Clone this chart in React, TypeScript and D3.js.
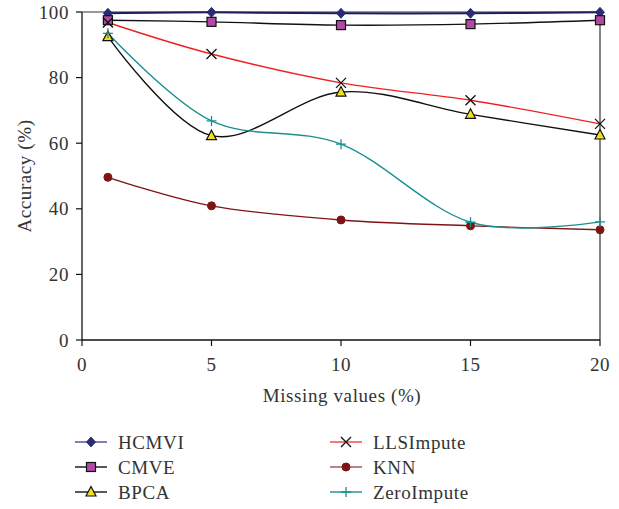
import React from "react";
import * as d3 from "d3";

const xValues = [1, 5, 10, 15, 20];
const hcmvi = [99.6, 99.9, 99.6, 99.6, 99.9];
const cmve = [97.5, 97.0, 96.0, 96.3, 97.5];
const bpca = [92.5, 62.3, 75.6, 68.8, 62.5];
const llsImpute = [96.8, 87.2, 78.4, 73.1, 65.9];
const knn = [49.6, 40.9, 36.6, 34.8, 33.6];
const zeroImpute = [93.5, 66.8, 59.7, 35.9, 36.0];
const xTicks = [0, 5, 10, 15, 20];
const yTicks = [0, 20, 40, 60, 80, 100];

type Marker = "diamond" | "square" | "triangle" | "x" | "circle" | "plus";
interface Series { name: string; values: number[]; line: string; marker: Marker; fill: string; stroke: string; legendLine: string; }

const series: Series[] = [
  { name: "HCMVI", values: hcmvi, line: "#1e1e5e", marker: "diamond", fill: "#2a2a78", stroke: "#1e1e5e", legendLine: "#4a4a96" },
  { name: "CMVE", values: cmve, line: "#111", marker: "square", fill: "#b04aa6", stroke: "#111", legendLine: "#111" },
  { name: "BPCA", values: bpca, line: "#111", marker: "triangle", fill: "#f0e020", stroke: "#111", legendLine: "#111" },
  { name: "LLSImpute", values: llsImpute, line: "#f02020", marker: "x", fill: "none", stroke: "#111", legendLine: "#f04040" },
  { name: "KNN", values: knn, line: "#801414", marker: "circle", fill: "#7d1515", stroke: "#7d1515", legendLine: "#a05050" },
  { name: "ZeroImpute", values: zeroImpute, line: "#1a9090", marker: "plus", fill: "none", stroke: "#1a9090", legendLine: "#1a9090" },
];

const FONT = "'Liberation Serif', 'DejaVu Serif', serif";
const FS = 19;
const LS = 0.6;

function MarkerShape({ type, x, y, fill, stroke }: { type: Marker; x: number; y: number; fill: string; stroke: string }) {
  switch (type) {
    case "diamond":
      return <path d={`M${x},${y - 5}L${x + 4.5},${y}L${x},${y + 5}L${x - 4.5},${y}Z`} fill={fill} stroke={stroke} strokeWidth={0.8} />;
    case "square":
      return <rect x={x - 4.5} y={y - 4.5} width={9} height={9} fill={fill} stroke={stroke} strokeWidth={1.2} />;
    case "triangle":
      return <path d={`M${x},${y - 5.5}L${x + 5},${y + 4}L${x - 5},${y + 4}Z`} fill={fill} stroke={stroke} strokeWidth={1.2} />;
    case "x":
      return <path d={`M${x - 5},${y - 5}L${x + 5},${y + 5}M${x - 5},${y + 5}L${x + 5},${y - 5}`} stroke={stroke} strokeWidth={1.3} fill="none" />;
    case "circle":
      return <circle cx={x} cy={y} r={4} fill={fill} stroke={stroke} />;
    case "plus":
      return <path d={`M${x - 5},${y}L${x + 5},${y}M${x},${y - 5}L${x},${y + 5}`} stroke={stroke} strokeWidth={1.3} fill="none" />;
  }
  return null;
}

export default function App() {
  const W = 619, H = 509;
  const x = d3.scaleLinear().domain([0, 20]).range([82, 600]);
  const y = d3.scaleLinear().domain([0, 100]).range([340, 12]);
  const line = d3.line<number>()
    .x((_, i) => x(xValues[i]))
    .y((v) => y(v))
    .curve(d3.curveCardinal.tension(0));

  const legendRows = [442, 467, 492];
  const legendCols = [75, 330];

  return (
    <svg width={W} height={H} style={{ position: "absolute", left: 0, top: 0 }} fontFamily={FONT} letterSpacing={LS}>
      <rect width={W} height={H} fill="#fff" />
      <line x1={82} x2={600} y1={12} y2={12} stroke="#333" strokeWidth={1.2} />
      <line x1={600} x2={600} y1={12} y2={340} stroke="#333" strokeWidth={1.2} />
      <line x1={82} x2={82} y1={12} y2={340} stroke="#333" strokeWidth={1.5} />
      <line x1={82} x2={600} y1={340} y2={340} stroke="#111" strokeWidth={1.5} />
      {yTicks.map((t) => (
        <g key={"y" + t}>
          <line x1={76} x2={82} y1={y(t)} y2={y(t)} stroke="#111" strokeWidth={1.2} />
          <text x={69} y={y(t)} dy="0.35em" textAnchor="end" fontSize={FS} fill="#333">{t}</text>
        </g>
      ))}
      {xTicks.map((t) => (
        <g key={"x" + t}>
          <line x1={x(t)} x2={x(t)} y1={340} y2={346} stroke="#111" strokeWidth={1.2} />
          <text x={x(t)} y={371} textAnchor="middle" fontSize={FS} fill="#333">{t}</text>
        </g>
      ))}
      <text x={342} y={402} textAnchor="middle" fontSize={FS} fill="#333">Missing values (%)</text>
      <text transform={`translate(31,176) rotate(-90)`} textAnchor="middle" fontSize={FS} fill="#333">Accuracy (%)</text>
      {series.map((s) => (
        <path key={s.name + "l"} d={line(s.values) || ""} fill="none" stroke={s.line} strokeWidth={s.name === "HCMVI" ? 2 : 1.4} />
      ))}
      {series.map((s) => (
        <g key={s.name + "m"}>
          {s.values.map((v, i) => (
            <MarkerShape key={i} type={s.marker} x={x(xValues[i])} y={y(v)} fill={s.fill} stroke={s.stroke} />
          ))}
        </g>
      ))}
      {series.map((s, i) => {
        const col = legendCols[Math.floor(i / 3)];
        const row = legendRows[i % 3];
        return (
          <g key={s.name + "lg"}>
            <line x1={col} x2={col + 32} y1={row} y2={row} stroke={s.legendLine} strokeWidth={1.4} />
            <MarkerShape type={s.marker} x={col + 16} y={row} fill={s.fill} stroke={s.stroke} />
            <text x={col + 43} y={row} dy="0.35em" fontSize={FS} fill="#333">{s.name}</text>
          </g>
        );
      })}
    </svg>
  );
}
